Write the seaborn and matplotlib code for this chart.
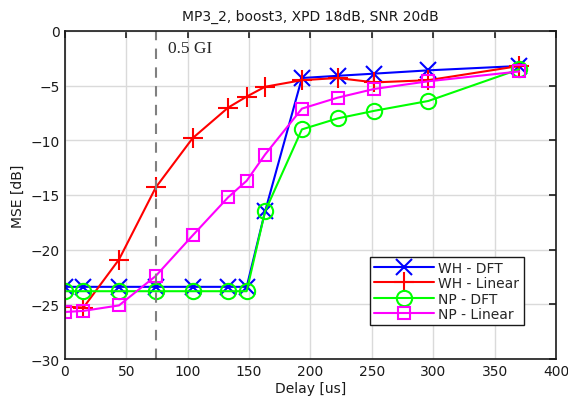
import matplotlib
matplotlib.use("Agg")
import matplotlib.pyplot as plt
import numpy as np
import pandas as pd
import seaborn as sns

delay = [0, 15, 44, 74, 104, 133, 148, 163, 193, 222, 252, 296, 370]

wh_dft = [-23.4, -23.4, -23.4, -23.4, -23.4, -23.4, -23.4, -16.5, -4.3, -4.1, -3.9, -3.6, -3.2]
wh_linear = [-25.2, -25.3, -20.9, -14.3, -9.8, -7.0, -6.0, -5.1, -4.5, -4.3, -4.7, -4.5, -3.2]
np_dft = [-23.8, -23.8, -23.8, -23.8, -23.8, -23.8, -23.8, -16.5, -9.0, -8.0, -7.3, -6.4, -3.5]
np_linear = [-25.7, -25.6, -25.1, -22.4, -18.7, -15.2, -13.7, -11.3, -7.1, -6.1, -5.3, -4.6, -3.7]

series = ["WH - DFT", "WH - Linear", "NP - DFT", "NP - Linear"]
values = [wh_dft, wh_linear, np_dft, np_linear]
colors = ["#0000FF", "#FF0000", "#00FF00", "#FF00FF"]
markers = ["x", "+", "o", "s"]
msizes = [11, 14, 11, 9]

gi_half = 74

sns.set_theme(style="white")
plt.rcParams["font.family"] = ["DejaVu Sans"]

fig = plt.figure(figsize=(5.68, 4.06), dpi=100)
ax = fig.add_axes([0.1144, 0.1133, 0.8645, 0.8079])

for name, vals, c, m, ms in zip(series, values, colors, markers, msizes):
    df = pd.DataFrame({"delay": delay, "mse": vals})
    sns.lineplot(data=df, x="delay", y="mse", ax=ax, color=c, marker=m,
                 markersize=ms, markerfacecolor="none", markeredgecolor=c,
                 markeredgewidth=1.5, linewidth=1.5, label=name)

ax.axvline(gi_half, color="#808080", linestyle=(0, (5, 4)), linewidth=1.5)
ax.text(84, -1.6, "0.5 GI", family="Liberation Serif", fontsize=12.5, va="center")

ax.set_xlim(0, 400)
ax.set_ylim(-30, 0)
ax.set_xticks(np.arange(0, 401, 50))
ax.set_yticks(np.arange(-30, 1, 5))
ax.grid(True, color="#DADADA", linewidth=1)
ax.tick_params(direction="in", length=5, width=1.2, top=True, right=True,
               labelsize=10, colors="#1a1a1a")
for s in ax.spines.values():
    s.set_color("#1a1a1a")
    s.set_linewidth(1.2)

ax.set_xlabel("Delay [us]", fontsize=10, labelpad=2, color="#1a1a1a")
ax.set_ylabel("MSE [dB]", fontsize=10, labelpad=4, color="#1a1a1a")
ax.set_title("MP3_2, boost3, XPD 18dB, SNR 20dB", fontsize=10, pad=8, color="#1a1a1a")

leg = ax.legend(loc="lower right", bbox_to_anchor=(0.948, 0.082), fontsize=10,
                frameon=True, fancybox=False, edgecolor="#1a1a1a",
                handlelength=4.3, labelspacing=0.1, borderpad=0.3,
                handletextpad=0.3)
leg.get_frame().set_linewidth(1)
leg.get_frame().set_alpha(1)

fig.savefig("out.png", dpi=100)
